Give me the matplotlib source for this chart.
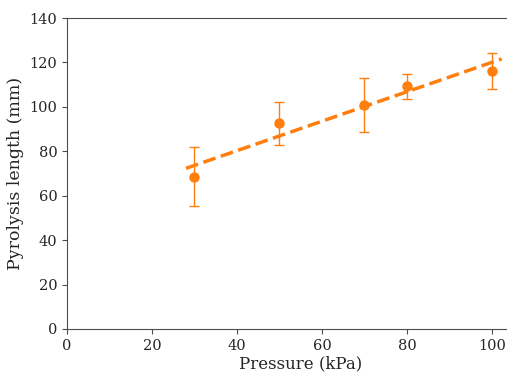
import numpy as np
import matplotlib
matplotlib.use("Agg")
import matplotlib.pyplot as plt

plt.rcParams["font.family"] = "DejaVu Serif"

pressure = [30, 50, 70, 80, 100]
length_mean = [68.6, 92.6, 100.8, 109.3, 116.3]
length_low = [55.4, 82.8, 88.8, 103.7, 108.2]
length_high = [82.0, 102.2, 113.1, 114.6, 124.2]
fit_range = [28, 102.3]

color = "#ff7f0e"

fig = plt.figure(figsize=(5.07, 3.72), dpi=100)
ax = fig.add_axes([0.1321, 0.1156, 0.92, 0.836])

mean = np.array(length_mean)
yerr = [mean - np.array(length_low), np.array(length_high) - mean]
ax.errorbar(pressure, mean, yerr=yerr, fmt="o", color=color, ms=6.5,
            elinewidth=1, capsize=3.5, capthick=1)

slope, intercept = np.polyfit(pressure, length_mean, 1)
xs = np.array(fit_range)
ax.plot(xs, slope * xs + intercept, "--", color=color, lw=2.5)

# axis span scaled so 100 kPa sits where it does in the reference
ax.set_xlim(0, 100 * 0.92 / (425 / 507))
ax.set_ylim(0, 140)
ax.set_xticks([0, 20, 40, 60, 80, 100])
ax.set_yticks(range(0, 141, 20))
for sp in ax.spines.values():
    sp.set_color("0.3")
ax.tick_params(labelsize=10.5, color="0.3", labelcolor="0.15")
ax.set_xlabel("Pressure (kPa)", fontsize=12, labelpad=2, color="0.15")
ax.set_ylabel("Pyrolysis length (mm)", fontsize=12.5, color="0.15")

fig.savefig("out.png", dpi=100)
